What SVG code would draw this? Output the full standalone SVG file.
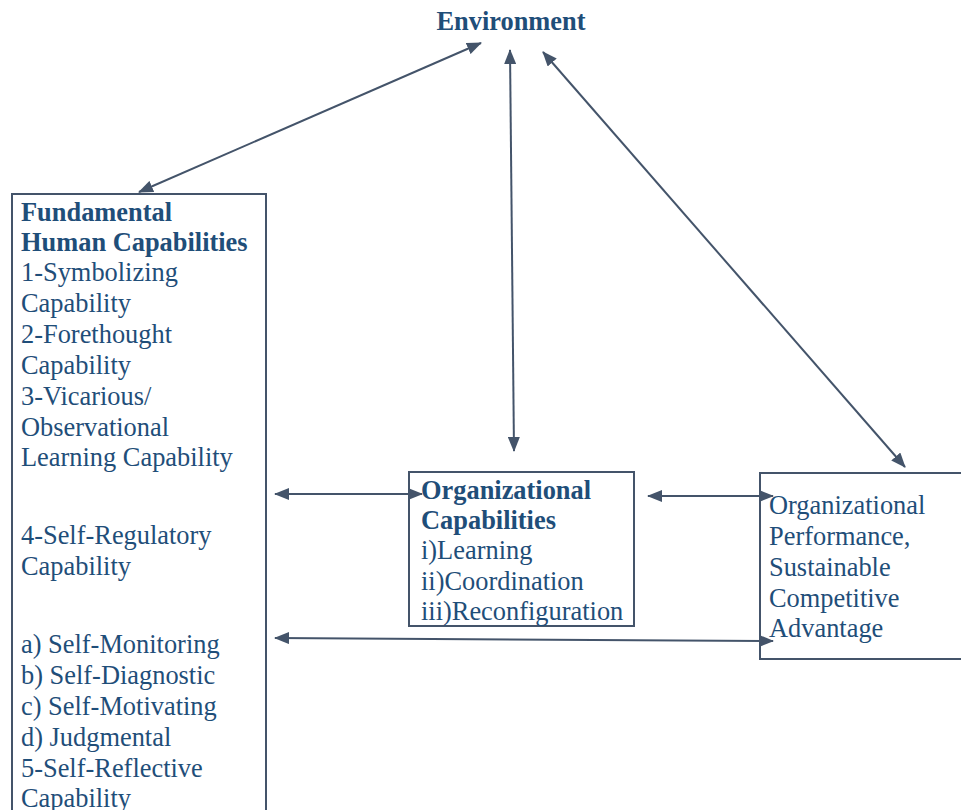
<svg xmlns="http://www.w3.org/2000/svg" width="961" height="810" viewBox="0 0 961 810">
<style>
text{font-family:'Liberation Serif','DejaVu Serif','Times New Roman',serif;font-size:26.4px;fill:#1F4E79}
.b{font-weight:bold}
.box{fill:#fff;stroke:#44546A;stroke-width:2}
.c{stroke:#44546A;stroke-width:2;fill:none;marker-start:url(#ah);marker-end:url(#ah)}
</style>
<defs>
<marker id="ah" viewBox="0 0 15 12" refX="14" refY="6" markerWidth="15" markerHeight="12" markerUnits="userSpaceOnUse" orient="auto-start-reverse">
<path d="M0,0 L15,6 L0,12 Z" fill="#44546A"/>
</marker>
</defs>
<rect width="961" height="810" fill="#fff"/>
<g id="environment">
<text class="b" x="511" y="30" text-anchor="middle">Environment</text>
</g>
<g id="human">
<rect class="box" x="12" y="194" width="254" height="640"/>
<text class="b" x="21" y="221">Fundamental</text>
<text class="b" x="21" y="251">Human Capabilities</text>
<text x="21" y="281">1-Symbolizing</text>
<text x="21" y="312">Capability</text>
<text x="21" y="343">2-Forethought</text>
<text x="21" y="374">Capability</text>
<text x="21" y="405">3-Vicarious/</text>
<text x="21" y="436">Observational</text>
<text x="21" y="466">Learning Capability</text>
<text x="21" y="544">4-Self-Regulatory</text>
<text x="21" y="575">Capability</text>
<text x="21" y="653">a) Self-Monitoring</text>
<text x="21" y="684">b) Self-Diagnostic</text>
<text x="21" y="715">c) Self-Motivating</text>
<text x="21" y="746">d) Judgmental</text>
<text x="21" y="777">5-Self-Reflective</text>
<text x="21" y="807">Capability</text>
</g>
<g id="orgcap">
<rect class="box" x="409" y="472" width="225" height="154"/>
<text class="b" x="421" y="499">Organizational</text>
<text class="b" x="421" y="529">Capabilities</text>
<text x="421" y="559">i)Learning</text>
<text x="421" y="590">ii)Coordination</text>
<text x="421" y="620">iii)Reconfiguration</text>
</g>
<g id="performance">
<rect class="box" x="760" y="473" width="210" height="186"/>
<text x="769" y="514">Organizational</text>
<text x="769" y="545">Performance,</text>
<text x="769" y="576">Sustainable</text>
<text x="769" y="607">Competitive</text>
<text x="769" y="637">Advantage</text>
</g>
<g id="connectors">
<line class="c" x1="139" y1="192" x2="481" y2="43"/>
<line class="c" x1="510" y1="50" x2="514" y2="451"/>
<line class="c" x1="543" y1="52" x2="905" y2="467"/>
<line class="c" x1="275" y1="494" x2="422" y2="494"/>
<line class="c" x1="648" y1="496" x2="773" y2="496"/>
<line class="c" x1="275" y1="638" x2="773" y2="641"/>
</g>
</svg>
